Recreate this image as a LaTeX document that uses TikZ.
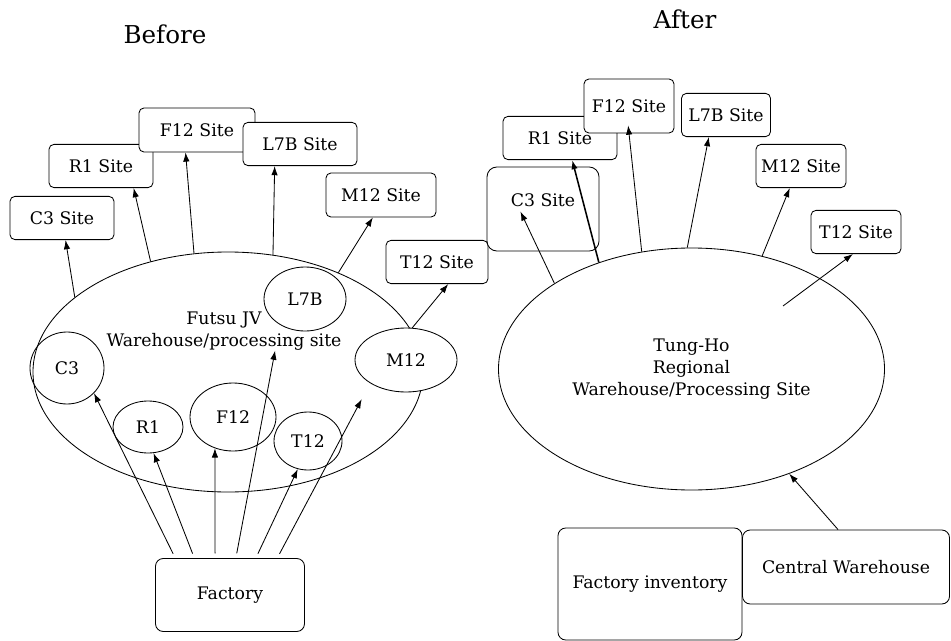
\documentclass[tikz,border=0pt]{standalone}
\usepackage{fontspec}
\setmainfont{DejaVu Serif}
\usetikzlibrary{arrows.meta,positioning,shapes.geometric}

\begin{document}
\begin{tikzpicture}[x=0.25mm, y=-0.25mm,
  every node/.style={font=\fontsize{12.3}{15.8}\selectfont},
  site/.style={draw, semithick, rounded corners=3.5pt, fill=white, minimum width=26mm, minimum height=10.8mm, inner sep=0pt},
  hub/.style={draw, semithick, ellipse, inner sep=0pt},
  yard/.style={draw, semithick, ellipse, inner sep=0pt},
  src/.style={draw, semithick, rounded corners=5.5pt, fill=white, inner sep=0pt},
  edge/.style={-{Latex[length=2.3mm, width=1.6mm]}, semithick},
  title/.style={font=\fontsize{17.5}{20}\selectfont}]
  \useasboundingbox (0,0) rectangle (951,641);
  \node[title] (before) at (165,34) {Before};
  \node[title] (after) at (685,19) {After};
  % before: Futsu JV
  \node[hub, minimum width=97.5mm, minimum height=60mm] (futsu) at (228,372) {};
  \node[align=center, inner sep=0pt] (futsutxt) at (224,331) {Futsu JV\\Warehouse/processing site};
  \node[yard, minimum width=18.5mm, minimum height=18mm] (c3) at (67,368) {C3};
  \node[yard, minimum width=17.5mm, minimum height=13mm] (r1) at (148,427) {R1};
  \node[yard, minimum width=21.5mm, minimum height=17mm] (f12) at (233,417) {F12};
  \node[yard, minimum width=17mm, minimum height=14.5mm] (t12) at (308,441) {T12};
  \node[yard, minimum width=20.5mm, minimum height=16mm] (l7b) at (305,299) {L7B};
  \node[yard, fill=white, minimum width=25.5mm, minimum height=16mm] (m12) at (406,360) {M12};
  \node[src, minimum width=37.25mm, minimum height=18.25mm] (factory) at (230,595) {Factory};
  \node[site] (sc3) at (62,218) {C3 Site};
  \node[site] (sr1) at (101,166) {R1 Site};
  \node[site, minimum width=29mm, minimum height=11mm] (sf12) at (197,130) {F12 Site};
  \node[site, minimum width=28.5mm] (sl7b) at (300,144) {L7B Site};
  \node[site, minimum width=27.5mm, minimum height=11mm] (sm12) at (381,195) {M12 Site};
  \node[site, minimum width=25.5mm] (st12) at (437,262) {T12 Site};
  \draw[edge] (futsu.154) -- (sc3);
  \draw[edge] (futsu.125) -- (sr1.-34);
  \draw[edge] (futsu.106) -- (sf12.-117);
  \draw[edge] (futsu.69) -- (sl7b.-139);
  \draw[edge] (futsu.42) -- (sm12.-110);
  \draw[edge] (m12.79) -- (st12.-63);
  \draw[edge, shorten <=1.2mm] (factory.146) -- (c3.-43);
  \draw[edge, shorten <=1.2mm] (factory.134) -- (r1.-78);
  \draw[edge, shorten <=1.2mm] (factory.112) -- (f12.-120);
  \draw[edge, shorten <=1.2mm] (factory.81) -- (futsutxt.-21);
  \draw[edge, shorten <=1.2mm] (factory.55) -- (t12.-110);
  \draw[edge, shorten <=1.2mm, shorten >=4.5mm] (factory.38) -- (m12.-147);
  % after: Tung-Ho
  \node[hub, minimum width=96.5mm, minimum height=60.5mm, align=center] (tungho) at (691.5,369) {Tung-Ho\\Regional\\Warehouse/Processing Site};
  \node[site, rounded corners=7pt, minimum width=28mm, minimum height=21mm] (nc3box) at (543,209) {};
  \node (nc3) at (543,200) {C3 Site};
  \node[site, minimum width=28.5mm] (nr1) at (560,138) {R1 Site};
  \node[site, minimum width=22.5mm, minimum height=13.5mm] (nf12) at (629,106) {F12 Site};
  \node[site, minimum width=22.25mm] (nl7b) at (726,115) {L7B Site};
  \node[site, minimum width=22.5mm] (nm12) at (801,166) {M12 Site};
  \node[site, minimum width=22.5mm] (nt12) at (856,232) {T12 Site};
  \coordinate (tfrom) at (783,306);
  \draw[edge] (tungho.148) -- (nc3.-153);
  \draw[edge, line width=1.1pt] (tungho.131) -- (nr1.-61);
  \draw[edge, shorten >=-2mm] (tungho.113) -- (nf12.south);
  \draw[edge] (tungho.92) -- (nl7b.-128);
  \draw[edge] (tungho.58) -- (nm12.-117);
  \draw[edge] (tfrom) -- (nt12.-98);
  \node[src, minimum width=46mm, minimum height=28mm] (inv) at (650,584) {Factory inventory};
  \node[src, minimum width=51.75mm, minimum height=18.5mm] (central) at (846,567) {Central Warehouse};
  \draw[edge] (central.102) -- (tungho.-47);
\end{tikzpicture}
\end{document}
